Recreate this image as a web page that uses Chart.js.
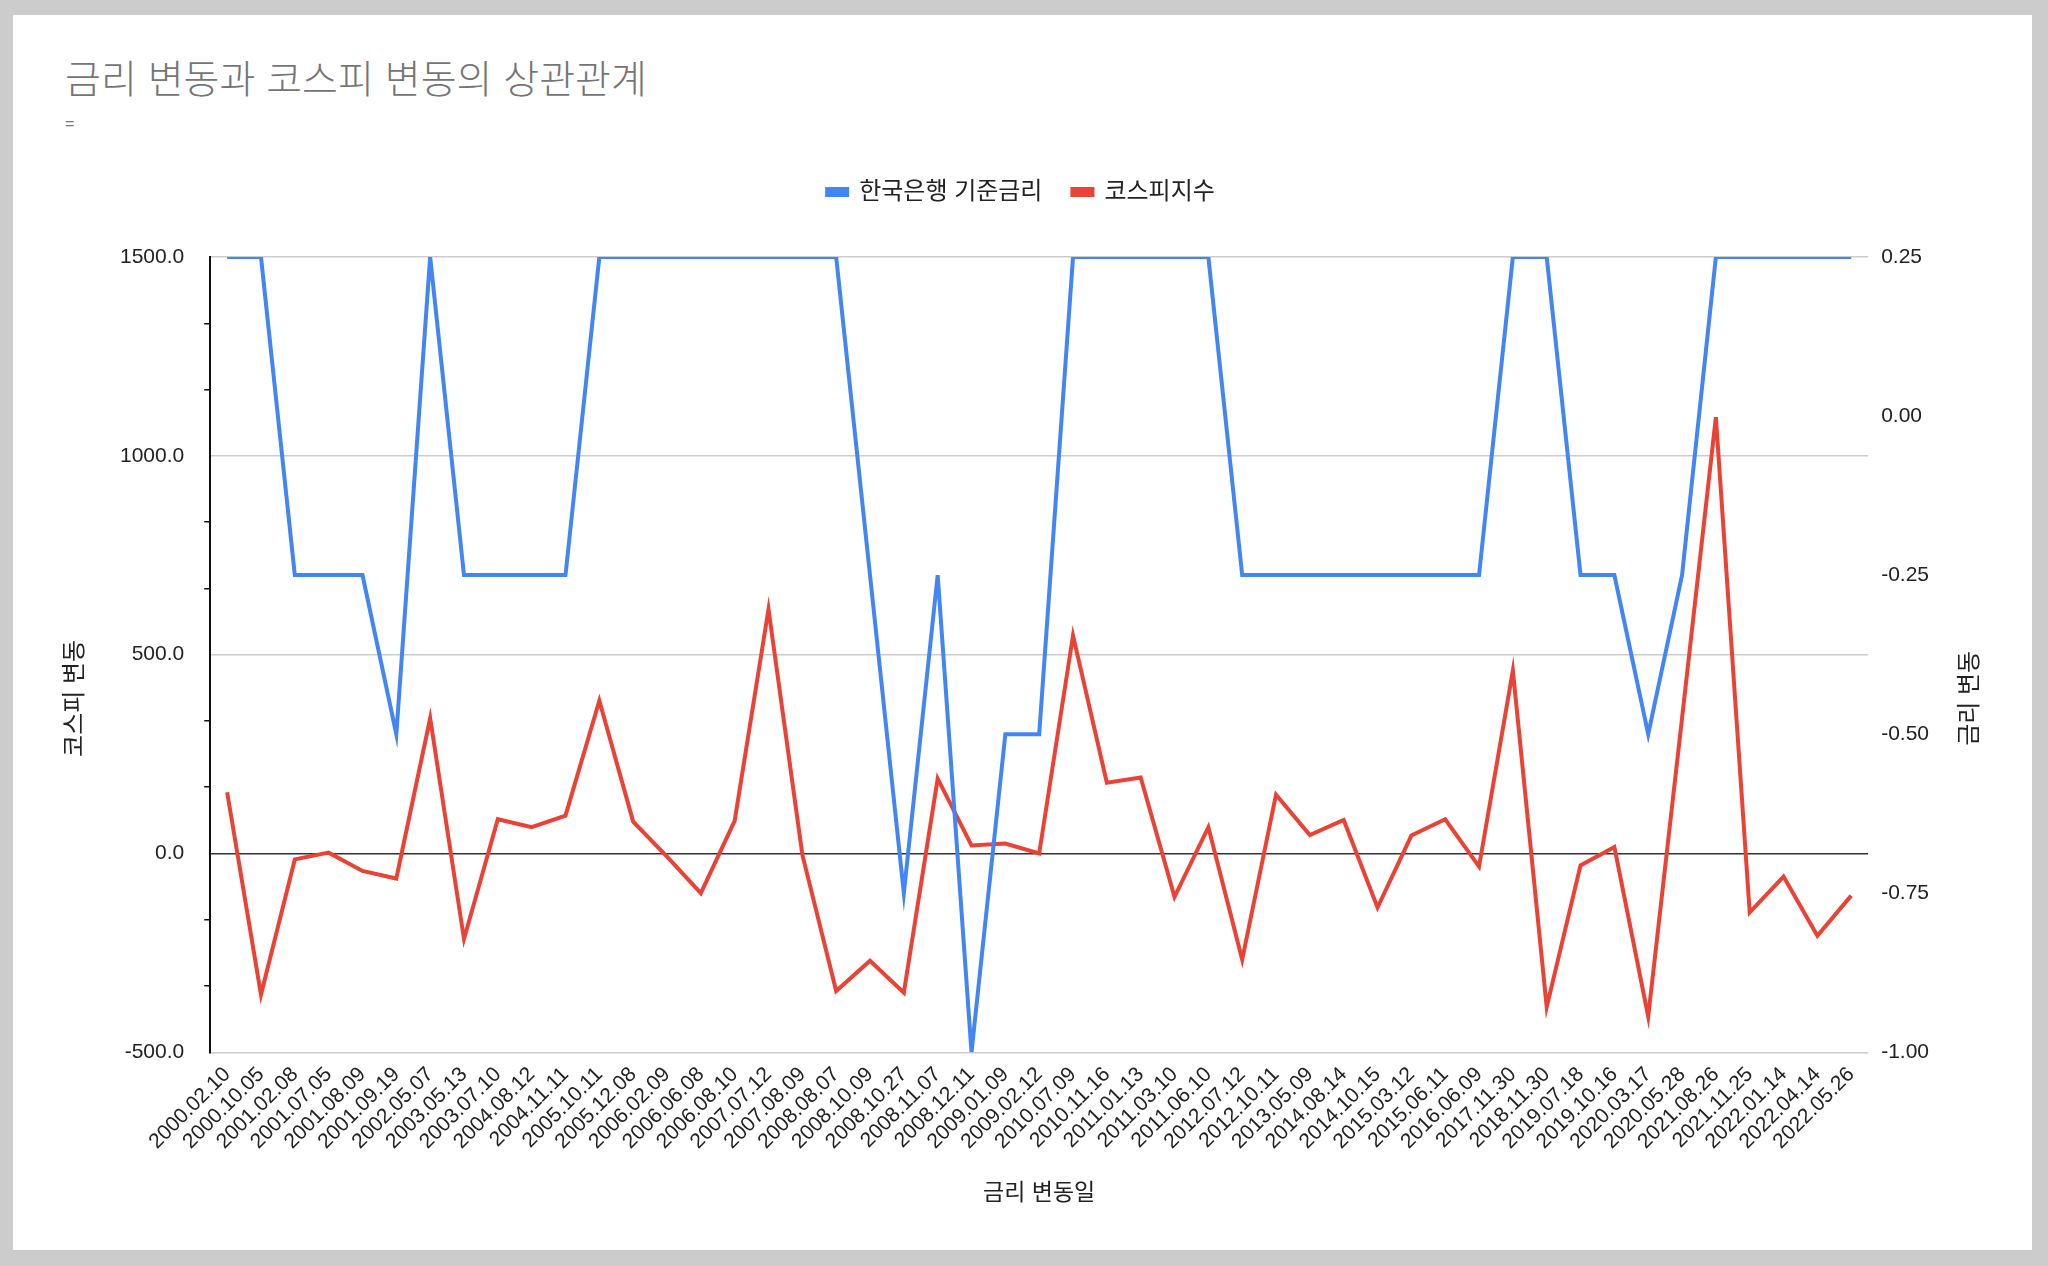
<!DOCTYPE html>
<html lang="ko">
<head>
<meta charset="utf-8">
<title>금리 변동과 코스피 변동의 상관관계</title>
<script src="https://cdn.jsdelivr.net/npm/chart.js@4.4.1/dist/chart.umd.min.js"></script>
<style>
  html, body { margin: 0; padding: 0; background: #cccccc; }
  body { width: 2048px; height: 1266px; position: relative; overflow: hidden; }
  #tarjeta { position: absolute; left: 13px; top: 15px; width: 2019px; height: 1235px; background: #ffffff; }
  #titulo {
    position: absolute; left: 52px; top: 42px; white-space: nowrap;
    font: 300 39px 'Noto Sans CJK KR', sans-serif; line-height: 1; color: #757575;
  }
  #subtitulo {
    position: absolute; left: 52px; top: 101px;
    font: 16px 'Liberation Sans', Arial, sans-serif; line-height: 1; color: #757575;
  }
  #grafico { position: absolute; left: 0; top: 0; }
</style>
</head>
<body>
<div id="tarjeta">
  <div id="titulo">금리 변동과 코스피 변동의 상관관계</div>
  <div id="subtitulo">=</div>
  <canvas id="grafico" width="2019" height="1235"></canvas>
</div>
<script>
// 금리 변동일 (categorias)
const fechas = [
  '2000.02.10', '2000.10.05', '2001.02.08', '2001.07.05', '2001.08.09', '2001.09.19', '2002.05.07',
  '2003.05.13', '2003.07.10', '2004.08.12', '2004.11.11', '2005.10.11', '2005.12.08', '2006.02.09',
  '2006.06.08', '2006.08.10', '2007.07.12', '2007.08.09', '2008.08.07', '2008.10.09', '2008.10.27',
  '2008.11.07', '2008.12.11', '2009.01.09', '2009.02.12', '2010.07.09', '2010.11.16', '2011.01.13',
  '2011.03.10', '2011.06.10', '2012.07.12', '2012.10.11', '2013.05.09', '2014.08.14', '2014.10.15',
  '2015.03.12', '2015.06.11', '2016.06.09', '2017.11.30', '2018.11.30', '2019.07.18', '2019.10.16',
  '2020.03.17', '2020.05.28', '2021.08.26', '2021.11.25', '2022.01.14', '2022.04.14', '2022.05.26'
];

// 한국은행 기준금리 변동 (eje derecho)
const tasaCambio = [
  0.25, 0.25, -0.25, -0.25, -0.25, -0.5, 0.25,
  -0.25, -0.25, -0.25, -0.25, 0.25, 0.25, 0.25,
  0.25, 0.25, 0.25, 0.25, 0.25, -0.25, -0.75,
  -0.25, -1.0, -0.5, -0.5, 0.25, 0.25, 0.25,
  0.25, 0.25, -0.25, -0.25, -0.25, -0.25, -0.25,
  -0.25, -0.25, -0.25, 0.25, 0.25, -0.25, -0.25,
  -0.5, -0.25, 0.25, 0.25, 0.25, 0.25, 0.25
];

// 코스피지수 변동 (eje izquierdo)
const kospiCambio = [
  154, -355, -15, 2, -44, -63, 340,
  -215, 86, 66, 95, 384, 80, -8,
  -100, 82, 614, -3, -346, -270, -350,
  188, 20, 25, 0, 548, 178, 191,
  -109, 66, -267, 148, 46, 84, -136,
  45, 86, -33, 460, -386, -30, 16,
  -410, 340, 1097, -148, -58, -207, -106
];

// ticks de los ejes
const kospiTicks = [-500, 0, 500, 1000, 1500];
const kospiSubdiv = 3;
const tasaTicks = [-1, -0.75, -0.5, -0.25, 0, 0.25];

const FUENTE = "Arial, 'Liberation Sans', 'Noto Sans CJK KR', sans-serif";
const AZUL = '#4285f4';
const ROJO = '#ea4335';

function esPrincipal(v) {
  return kospiTicks.some(t => Math.abs(t - v) < 1e-6);
}

// el legend de Chart.js no tiene margen inferior, se lo agregamos
const espacioLeyenda = {
  id: 'espacioLeyenda',
  beforeLayout(chart) {
    const lg = chart.legend;
    if (lg && !lg._conEspacio) {
      const fitOriginal = lg.fit;
      lg.fit = function () {
        fitOriginal.call(this);
        this.height += 43;
      };
      lg._conEspacio = true;
    }
  }
};

// titulos de los ejes verticales (los dos girados -90, como en la hoja)
const titulosEjes = {
  id: 'titulosEjes',
  afterDraw(chart) {
    const { ctx, chartArea } = chart;
    const yc = chartArea.top + (chartArea.bottom - chartArea.top) * 0.555;
    ctx.save();
    ctx.font = '24px ' + FUENTE;
    ctx.fillStyle = '#222222';
    ctx.textAlign = 'center';
    ctx.textBaseline = 'middle';
    [[chartArea.left - 135, '코스피 변동'], [chartArea.right + 102, '금리 변동']].forEach(([x, texto]) => {
      ctx.save();
      ctx.translate(x, yc);
      ctx.rotate(-Math.PI / 2);
      ctx.fillText(texto, 0, 0);
      ctx.restore();
    });
    ctx.restore();
  }
};

new Chart(document.getElementById('grafico'), {
  type: 'line',
  data: {
    labels: fechas,
    datasets: [
      {
        label: '한국은행 기준금리',
        data: tasaCambio,
        yAxisID: 'y1',
        borderColor: AZUL,
        backgroundColor: AZUL,
        borderWidth: 4,
        pointRadius: 0,
        tension: 0,
        clip: 0
      },
      {
        label: '코스피지수',
        data: kospiCambio,
        yAxisID: 'y',
        borderColor: ROJO,
        backgroundColor: ROJO,
        borderWidth: 4,
        pointRadius: 0,
        tension: 0,
        clip: 0
      }
    ]
  },
  options: {
    responsive: false,
    animation: false,
    layout: { padding: { top: 135, left: 87, right: 90, bottom: 0 } },
    plugins: {
      legend: {
        position: 'top',
        labels: {
          boxWidth: 20,
          boxHeight: 6,
          padding: 30,
          color: '#222222',
          font: { family: FUENTE, size: 24 }
        }
      },
      tooltip: { enabled: false }
    },
    scales: {
      x: {
        offset: true,
        grid: { display: false, drawTicks: false },
        border: { display: false },
        ticks: {
          autoSkip: false,
          minRotation: 45,
          maxRotation: 45,
          padding: 10,
          color: '#222222',
          font: { family: FUENTE, size: 21 }
        },
        title: {
          display: true,
          text: '금리 변동일',
          color: '#222222',
          font: { family: FUENTE, size: 23 },
          padding: { top: 15, bottom: 43 }
        }
      },
      y: {
        position: 'left',
        min: -500,
        max: 1500,
        afterBuildTicks: (scale) => {
          const t = [];
          for (let i = 0; i < kospiTicks.length; i++) {
            t.push({ value: kospiTicks[i] });
            if (i < kospiTicks.length - 1) {
              const paso = (kospiTicks[i + 1] - kospiTicks[i]) / kospiSubdiv;
              for (let j = 1; j < kospiSubdiv; j++) t.push({ value: kospiTicks[i] + paso * j });
            }
          }
          scale.ticks = t;
        },
        ticks: {
          autoSkip: false,
          padding: 20,
          color: '#222222',
          font: { family: FUENTE, size: 21 },
          callback: (v) => esPrincipal(v) ? Number(v).toFixed(1) : ''
        },
        grid: {
          tickLength: 6,
          tickWidth: 1.5,
          lineWidth: 1.5,
          color: (c) => {
            if (!c.tick || !esPrincipal(c.tick.value)) return 'rgba(0,0,0,0)';
            return Math.abs(c.tick.value) < 1e-6 ? '#333333' : '#cccccc';
          },
          tickColor: (c) => (c.tick && esPrincipal(c.tick.value)) ? 'rgba(0,0,0,0)' : '#111111'
        },
        border: { display: true, color: '#111111', width: 2 }
      },
      y1: {
        position: 'right',
        min: -1,
        max: 0.25,
        afterBuildTicks: (scale) => {
          scale.ticks = tasaTicks.map(v => ({ value: v }));
        },
        ticks: {
          autoSkip: false,
          padding: 13,
          color: '#222222',
          font: { family: FUENTE, size: 21 },
          callback: (v) => (Math.abs(v) < 1e-9 ? 0 : Number(v)).toFixed(2)
        },
        grid: { drawOnChartArea: false, drawTicks: false },
        border: { display: false }
      }
    }
  },
  plugins: [espacioLeyenda, titulosEjes]
});
</script>
</body>
</html>
